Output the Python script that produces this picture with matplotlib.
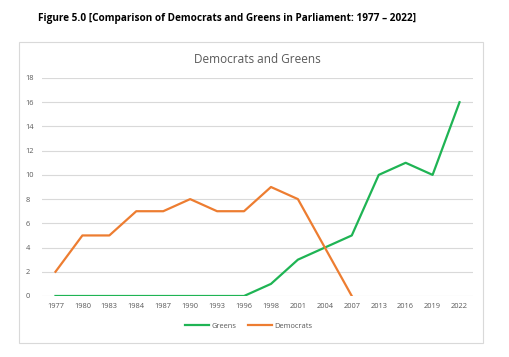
import numpy as np
import matplotlib.pyplot as plt
from matplotlib.patches import Rectangle

years = ['1977', '1980', '1983', '1984', '1987', '1990', '1993', '1996',
         '1998', '2001', '2004', '2007', '2013', '2016', '2019', '2022']
greens = [0, 0, 0, 0, 0, 0, 0, 0, 1, 3, 4, 5, 10, 11, 10, 16]
democrats = [2, 5, 5, 7, 7, 8, 7, 7, 9, 8, 4, 0,
             np.nan, np.nan, np.nan, np.nan]

plt.rcParams['font.family'] = ['Open Sans', 'DejaVu Sans']

fig = plt.figure(figsize=(5.1, 3.57), dpi=100)
fig.patches.append(Rectangle((19/510, 1 - 343/357), 464/510, 301/357,
                             transform=fig.transFigure, fill=False,
                             edgecolor='#d9d9d9', linewidth=0.8))
fig.text(38/510, 1 - 18/357,
         'Figure 5.0 [Comparison of Democrats and Greens in Parliament: 1977 \u2013 2022]',
         fontsize=7.2, fontweight='bold', va='center', ha='left')

ax = fig.add_axes([42/510, 1 - 296/357, 431/510, 218/357])
x = np.arange(len(years))
ax.plot(x, greens, color='#1fb454', linewidth=1.6, label='Greens')
ax.plot(x, democrats, color='#ed7d31', linewidth=1.6, label='Democrats')

ax.set_xlim(-0.5, len(years) - 0.5)
ax.set_ylim(0, 18)
ax.set_yticks(range(0, 19, 2))
ax.set_xticks(x)
ax.set_xticklabels(years)
ax.grid(axis='y', color='#d9d9d9', linewidth=0.8)
ax.set_axisbelow(True)
for s in ax.spines.values():
    s.set_visible(False)
ax.tick_params(length=0, labelsize=5.4, labelcolor='#595959')
ax.tick_params(axis='y', pad=12)
ax.tick_params(axis='x', pad=5)
for lab in ax.get_yticklabels():
    lab.set_horizontalalignment('left')

ax.set_title('Democrats and Greens', fontsize=8.5, color='#595959', pad=11)
ax.legend(loc='upper center', bbox_to_anchor=(0.48, -0.09), ncol=2,
          frameon=False, fontsize=5.4, labelcolor='#595959',
          handlelength=3.2, columnspacing=1.5, handletextpad=0.3)

fig.savefig('out.png', dpi=100)
